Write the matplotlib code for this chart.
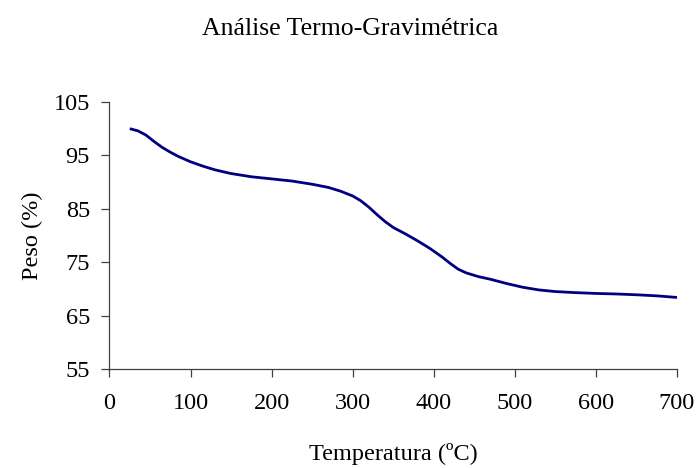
import matplotlib
matplotlib.use('Agg')
from matplotlib import pyplot as plt

# TGA curve
temp = [25, 35, 45, 55, 65, 75, 85, 100, 115, 130, 150, 175, 200, 225, 250, 270, 285,
        300, 310, 320, 330, 340, 350, 365, 380, 395, 410, 420, 430, 440, 455, 470, 490,
        510, 530, 550, 575, 600, 625, 650, 675, 700]
peso = [100.0, 99.6, 98.8, 97.6, 96.5, 95.6, 94.8, 93.8, 93.0, 92.3, 91.6, 91.0, 90.6, 90.2, 89.6, 89.0, 88.3,
        87.4, 86.5, 85.3, 83.9, 82.6, 81.5, 80.3, 79.0, 77.6, 76.0, 74.8, 73.7, 73.0, 72.3, 71.8, 71.0,
        70.3, 69.8, 69.5, 69.3, 69.15, 69.05, 68.9, 68.7, 68.4]

xticks = [0, 100, 200, 300, 400, 500, 600, 700]
yticks = [55, 65, 75, 85, 95, 105]

plt.rcParams['font.family'] = ['Liberation Serif', 'DejaVu Serif']

fig = plt.figure(figsize=(7, 4.68), dpi=100)
ax = fig.add_axes([109.5/700, 1-369/468, (677-109.5)/700, (369-102)/468])

ax.plot(temp, peso, color='#000080', lw=2.0, solid_capstyle='butt', solid_joinstyle='round')

ax.set_xlim(0, 700)
ax.set_ylim(55, 105)
ax.set_xticks(xticks)
ax.set_yticks(yticks)

for s in ['top', 'right']:
    ax.spines[s].set_visible(False)
for s in ['left', 'bottom']:
    ax.spines[s].set_color('#404040')
    ax.spines[s].set_linewidth(0.9)

ax.tick_params(axis='both', direction='out', length=6, width=0.9, color='#404040', labelsize=17.5)
ax.tick_params(axis='x', pad=11)
ax.tick_params(axis='y', pad=8)

ax.set_xlabel('Temperatura (ºC)', fontsize=17.5, labelpad=21)
ax.set_ylabel('Peso (%)', fontsize=17.5, labelpad=8)

fig.suptitle('Análise Termo-Gravimétrica', fontsize=18.5, y=1-29/468, va='center')

plt.savefig('out.png', dpi=100)
plt.close()
